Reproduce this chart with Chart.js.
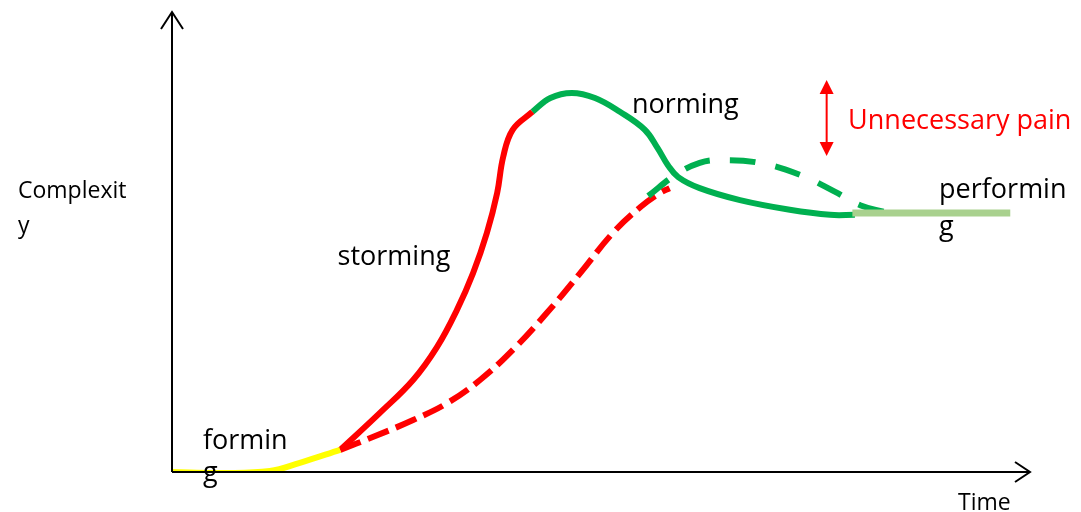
<!DOCTYPE html>
<html>
<head>
<meta charset="utf-8">
<script src="https://cdn.jsdelivr.net/npm/chart.js@4"></script>
<style>
  html, body { margin: 0; padding: 0; background: #fff; }
  #wrap { width: 1081px; height: 512px; }
</style>
</head>
<body>
<div id="wrap"><canvas id="tuckman" width="1081" height="512"></canvas></div>
<script>
// phases of the team curve, time (x) vs complexity (y), both 0..100
var formingTime = [0, 5.6, 11.4, 14.9, 19.6];
var formingCplx = [0, -0.2, 0.2, 2.0, 4.8];

var stormingTime = [19.6, 24.2, 28.1, 30.9, 33.2, 35.1, 36.7, 37.9, 38.6, 39.7, 42.0];
var stormingCplx = [4.8, 12.8, 20.0, 27.2, 35.2, 43.3, 52.0, 60.7, 68.5, 74.4, 78.3];

var normingTime = [42.0, 44.1, 46.6, 49.3, 52.2, 55.1, 56.6, 57.8, 59.0, 61.5, 66.2, 72.0, 76.7, 79.6];
var normingCplx = [78.3, 81.3, 82.4, 81.3, 78.3, 74.4, 70.4, 66.7, 64.1, 61.7, 59.1, 57.0, 55.9, 55.9];

var performingTime = [79.3, 97.7];
var performingCplx = [56.3, 56.3];

// the smoother path without the pain
var idealStormTime = [19.6, 23.4, 28.1, 32.1, 35.9, 39.7, 43.7, 47.6, 51.4, 54.6, 56.9, 58.0];
var idealStormCplx = [4.8, 7.6, 11.3, 15.0, 20.0, 26.5, 34.6, 43.3, 52.0, 57.6, 60.7, 61.7];

var idealNormTime = [55.5, 58.7, 61.5, 63.9, 68.5, 73.2, 77.3, 80.2, 83.1];
var idealNormCplx = [60.0, 64.6, 67.2, 67.8, 67.2, 64.6, 60.9, 58.0, 56.5];

var RED = "#ff0000", GREEN = "#00b050", LIGHTGREEN = "#a9d18e", YELLOW = "#ffff00";
var FONT = "Open Sans";

function pts(xs, ys){
	var out = [];
	for(var i = 0; i < xs.length; i++){
		out.push({x: xs[i], y: ys[i]});
	}
	return out;
}

function curve(xs, ys, color, width, dash){
	return {
		data: pts(xs, ys),
		borderColor: color,
		borderWidth: width,
		borderDash: dash || [],
		borderCapStyle: "butt",
		pointRadius: 0,
		fill: false,
		tension: 0.4
	};
}

// text labels, in data units
var labels = [
	{text: "formin", x: 3.6, y: 5.0, color: "#000"},
	{text: "g", x: 3.6, y: -2.0, color: "#000"},
	{text: "storming", x: 19.3, y: 45.0, color: "#000"},
	{text: "norming", x: 53.6, y: 78.0, color: "#000"},
	{text: "performin", x: 89.4, y: 59.6, color: "#000"},
	{text: "g", x: 89.4, y: 51.5, color: "#000"},
	{text: "Unnecessary pain", x: 78.8, y: 74.6, color: RED}
];

var overlay = {
	id: "overlay",
	afterDatasetsDraw: function(chart){
		var ctx = chart.ctx;
		var xs = chart.scales.x, ys = chart.scales.y;
		var x0 = xs.getPixelForValue(0), y0 = ys.getPixelForValue(0);
		var xEnd = xs.getPixelForValue(100), yEnd = ys.getPixelForValue(100);
		ctx.save();
		// axes with open arrow heads
		ctx.strokeStyle = "#000";
		ctx.lineWidth = 2;
		ctx.beginPath();
		ctx.moveTo(x0, y0); ctx.lineTo(x0, yEnd);
		ctx.moveTo(x0 - 11, yEnd + 17); ctx.lineTo(x0, yEnd); ctx.lineTo(x0 + 11, yEnd + 17);
		ctx.moveTo(x0, y0); ctx.lineTo(xEnd, y0);
		ctx.moveTo(xEnd - 15, y0 - 10); ctx.lineTo(xEnd, y0); ctx.lineTo(xEnd - 15, y0 + 10);
		ctx.stroke();

		// red double-headed arrow
		var ax = xs.getPixelForValue(76.3);
		var aTop = ys.getPixelForValue(85.2), aBot = ys.getPixelForValue(68.7);
		ctx.strokeStyle = RED; ctx.fillStyle = RED; ctx.lineWidth = 2;
		ctx.beginPath(); ctx.moveTo(ax, aTop + 10); ctx.lineTo(ax, aBot - 10); ctx.stroke();
		ctx.beginPath(); ctx.moveTo(ax, aTop); ctx.lineTo(ax - 7, aTop + 14); ctx.lineTo(ax + 7, aTop + 14); ctx.closePath(); ctx.fill();
		ctx.beginPath(); ctx.moveTo(ax, aBot); ctx.lineTo(ax - 7, aBot - 14); ctx.lineTo(ax + 7, aBot - 14); ctx.closePath(); ctx.fill();

		// texts
		ctx.textBaseline = "alphabetic";
		ctx.textAlign = "left";
		ctx.font = "27px '" + FONT + "'";
		labels.forEach(function(l){
			ctx.fillStyle = l.color;
			ctx.fillText(l.text, xs.getPixelForValue(l.x), ys.getPixelForValue(l.y));
		});
		// axis titles
		ctx.fillStyle = "#000";
		ctx.font = "23px '" + FONT + "'";
		ctx.fillText("Complexit", 18, 198);
		ctx.fillText("y", 18, 233);
		ctx.fillText("Time", 958, 510);
		ctx.restore();
	}
};

new Chart(document.getElementById("tuckman"), {
	type: "line",
	data: {
		datasets: [
			curve(performingTime, performingCplx, LIGHTGREEN, 7),
			curve(formingTime, formingCplx, YELLOW, 6),
			curve(stormingTime, stormingCplx, RED, 6),
			curve(normingTime, normingCplx, GREEN, 6),
			curve(idealNormTime, idealNormCplx, GREEN, 6, [26, 20]),
			curve(idealStormTime, idealStormCplx, RED, 6, [22, 8])
		]
	},
	options: {
		responsive: false,
		animation: false,
		layout: { padding: { left: 172, right: 51, top: 12, bottom: 40 } },
		plugins: { legend: { display: false }, tooltip: { enabled: false } },
		scales: {
			x: { type: "linear", min: 0, max: 100, display: false },
			y: { type: "linear", min: 0, max: 100, display: false }
		}
	},
	plugins: [overlay]
});
</script>
</body>
</html>
